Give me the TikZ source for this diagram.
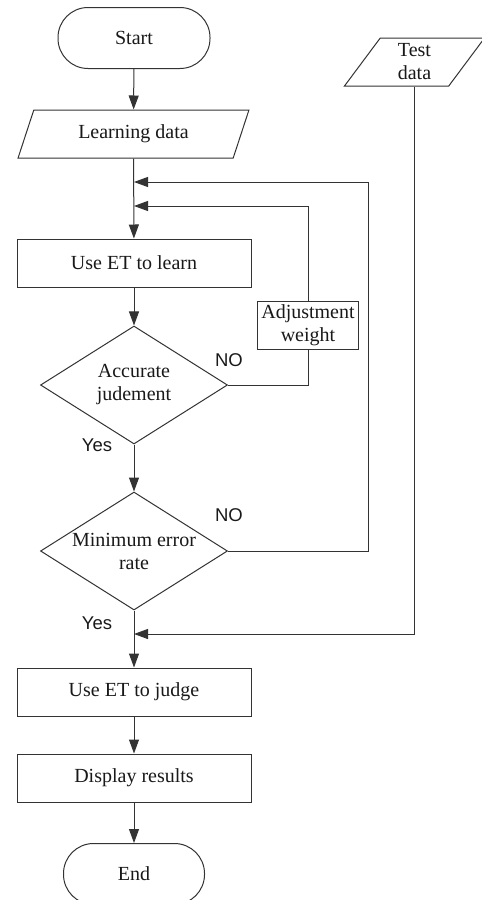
\documentclass[tikz,border=0pt]{standalone}
\usepackage{fontspec}
\setmainfont{Liberation Serif}
\newfontfamily\labfont{Liberation Sans}
\usetikzlibrary{shapes.geometric,arrows.meta}
\begin{document}
\begin{tikzpicture}[x=1pt,y=-1pt,
  every node/.style={font=\fontsize{20}{23}\selectfont, text=black!90},
  line/.style={draw=black!80, line width=1pt},
  arr/.style={line, -{Triangle[length=14pt,width=10pt]}},
  term/.style={line, rectangle, rounded corners=30pt, minimum height=61pt, inner sep=0pt},
  proc/.style={line, rectangle, minimum width=234pt, minimum height=48pt, inner sep=0pt},
  io/.style={line, trapezium, trapezium left angle=64.4, trapezium right angle=115.6, trapezium stretches=true, minimum height=48pt, inner sep=0pt},
  dec/.style={line, diamond, minimum width=187pt, minimum height=118pt, inner sep=0pt},
  lab/.style={font=\labfont\fontsize{18.5}{22}\selectfont}
]
\useasboundingbox (0,0) rectangle (482,900);
\fill[white] (0,0) rectangle (482,900);

\node[term, minimum width=152pt] (start) at (134,38) {Start};
\node[io, minimum width=231pt] (learn) at (133.5,134) {Learning data};
\node[proc] (uel) at (134,263) {Use ET to learn};
\node[dec] (d1) at (134,385) {};
\node[align=center] (d1t) at (134,385) {Accurate\\judement};
\node[line, rectangle, minimum width=101pt, minimum height=48pt, inner sep=0pt, align=center] (adj) at (308,325) {Adjustment\\weight};
\node[dec] (d2) at (134,551) {};
\node[align=center] (d2t) at (134,551) {Minimum error\\rate};
\node[io, minimum width=141pt, align=center] (test) at (414.5,62) {Test\\data};
\node[proc] (uej) at (134,692) {Use ET to judge};
\node[proc] (disp) at (134,778) {Display results};
\node[term, minimum width=141pt] (end) at (134,874) {End};

\coordinate (j1) at (134,182);
\coordinate (j2) at (134,206);
\coordinate (j3) at (134,634);
\coordinate (c1) at (368,182);

\draw[arr] (start) -- (learn);
\draw[arr] (learn) -- (uel);
\draw[arr] (uel) -- (d1);
\draw[arr] (d1) -- (d2);
\draw[arr] (d2) -- (uej);
\draw[arr] (uej) -- (disp);
\draw[arr] (disp) -- (end);

\draw[line] (d1.east) -| (adj.south);
\draw[arr] (adj.north) |- (j2);
\draw[arr] (d2.east) -| (c1) -- (j1);
\draw[arr] (test.south) |- (j3);

\node[lab] (no1) at (229,360) {NO};
\node[lab] (no2) at (229,515) {NO};
\node[lab] (yes1) at (97,445) {Yes};
\node[lab] (yes2) at (97,623) {Yes};
\end{tikzpicture}
\end{document}
